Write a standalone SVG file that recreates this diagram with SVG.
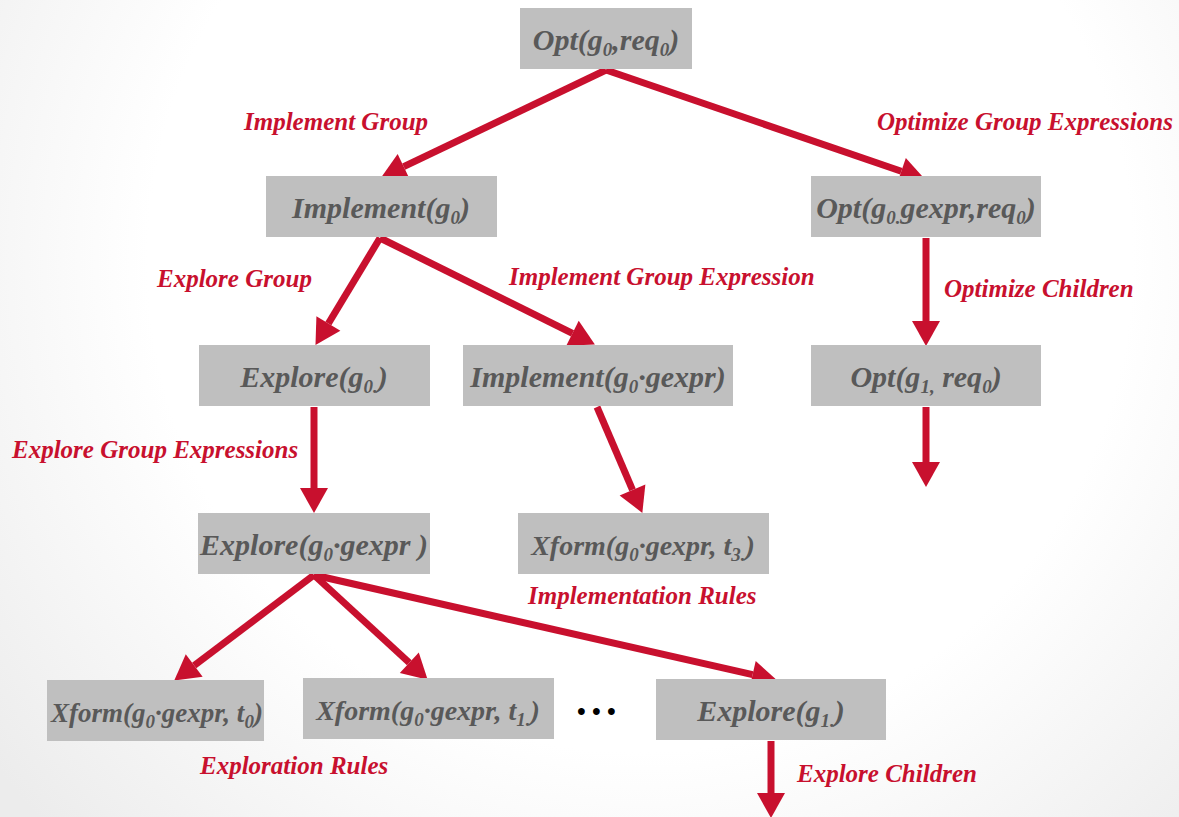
<svg xmlns="http://www.w3.org/2000/svg" width="1179" height="817" viewBox="0 0 1179 817">
  <defs>
    <radialGradient id="bg" cx="640" cy="260" r="820" gradientUnits="userSpaceOnUse">
      <stop offset="0" stop-color="#ffffff"/>
      <stop offset="0.6" stop-color="#ffffff"/>
      <stop offset="1" stop-color="#ececec"/>
    </radialGradient>
    <marker id="head" markerUnits="userSpaceOnUse" markerWidth="26" markerHeight="28" refX="0" refY="14" orient="auto" overflow="visible">
      <path d="M0,0 L25,14 L0,28 Z" fill="#c8102e"/>
    </marker>
    <style>
      .box { fill: #bfbfbf; }
      .nt { font-family: "Liberation Serif", "Times New Roman", serif; font-weight: bold; font-style: italic; font-size: 30px; fill: #595959; text-anchor: middle; }
      .nt.xf { font-size: 28px; }
      .nt.xs { font-size: 27px; }
      .sub { font-size: 19px; }
      .lbl { font-family: "Liberation Serif", "Times New Roman", serif; font-weight: bold; font-style: italic; font-size: 25px; fill: #c8102e; }
      .edge { stroke: #c8102e; stroke-width: 7; fill: none; marker-end: url(#head); }
    </style>
  </defs>

  <rect x="0" y="0" width="1179" height="817" fill="url(#bg)"/>

  <!-- connectors: each line stops at the base of its arrowhead -->
  <g id="connectors">
    <line class="edge" x1="606" y1="70" x2="403.7" y2="166.7"/>
    <line class="edge" x1="606" y1="70" x2="901.3" y2="171.2"/>
    <line class="edge" x1="380" y1="238" x2="328.4" y2="323.5"/>
    <line class="edge" x1="380" y1="238" x2="572.5" y2="333.3"/>
    <line class="edge" x1="926" y1="238" x2="926" y2="321"/>
    <line class="edge" x1="926" y1="407" x2="926" y2="462"/>
    <line class="edge" x1="314" y1="407" x2="314" y2="488"/>
    <line class="edge" x1="597" y1="407" x2="632.5" y2="489.9"/>
    <line class="edge" x1="314" y1="575" x2="194.2" y2="665.5"/>
    <line class="edge" x1="314" y1="575" x2="409.3" y2="662.8"/>
    <line class="edge" x1="314" y1="575" x2="752.6" y2="674.7"/>
    <line class="edge" x1="771" y1="741" x2="771" y2="793"/>
  </g>

  <!-- edge labels -->
  <g id="labels">
    <text class="lbl" x="244" y="130">Implement Group</text>
    <text class="lbl" x="877" y="130">Optimize Group Expressions</text>
    <text class="lbl" x="157" y="287">Explore Group</text>
    <text class="lbl" x="509" y="285">Implement Group Expression</text>
    <text class="lbl" x="944" y="297">Optimize Children</text>
    <text class="lbl" x="12" y="458">Explore Group Expressions</text>
    <text class="lbl" x="528" y="604">Implementation Rules</text>
    <text class="lbl" x="200" y="774">Exploration Rules</text>
    <text class="lbl" x="797" y="782">Explore Children</text>
    <text class="lbl" x="577" y="720" style="fill:#000000;font-style:normal">• • •</text>
  </g>

  <g id="n-opt-root">
    <rect class="box" x="520" y="8" width="172" height="61"/>
    <text class="nt" x="606" y="50">Opt(g<tspan class="sub" dy="6">0</tspan><tspan dy="-6">,req</tspan><tspan class="sub" dy="6">0</tspan><tspan dy="-6">)</tspan></text>
  </g>

  <g id="n-implement-g0">
    <rect class="box" x="266" y="176" width="231" height="61"/>
    <text class="nt" x="381" y="218">Implement(g<tspan class="sub" dy="6">0</tspan><tspan dy="-6">)</tspan></text>
  </g>

  <g id="n-opt-gexpr">
    <rect class="box" x="811" y="176" width="230" height="61"/>
    <text class="nt" x="926" y="218">Opt(g<tspan class="sub" dy="6">0.</tspan><tspan dy="-6">gexpr,req</tspan><tspan class="sub" dy="6">0</tspan><tspan dy="-6">)</tspan></text>
  </g>

  <g id="n-explore-g0">
    <rect class="box" x="199" y="345" width="231" height="61"/>
    <text class="nt" x="314" y="387">Explore(g<tspan class="sub" dy="6">0.</tspan><tspan dy="-6">)</tspan></text>
  </g>

  <g id="n-implement-gexpr">
    <rect class="box" x="463" y="345" width="270" height="61"/>
    <text class="nt" x="598" y="387">Implement(g<tspan class="sub" dy="6">0</tspan><tspan dy="-6">·gexpr)</tspan></text>
  </g>

  <g id="n-opt-g1">
    <rect class="box" x="811" y="345" width="230" height="61"/>
    <text class="nt" x="926" y="387">Opt(g<tspan class="sub" dy="6">1,</tspan><tspan dy="-6"> req</tspan><tspan class="sub" dy="6">0</tspan><tspan dy="-6">)</tspan></text>
  </g>

  <g id="n-explore-gexpr">
    <rect class="box" x="198" y="513" width="232" height="61"/>
    <text class="nt" x="314" y="555">Explore(g<tspan class="sub" dy="6">0</tspan><tspan dy="-6">·gexpr )</tspan></text>
  </g>

  <g id="n-xform-t3">
    <rect class="box" x="518" y="513" width="251" height="61"/>
    <text class="nt xf" x="643" y="555">Xform(g<tspan class="sub" dy="6">0</tspan><tspan dy="-6">·gexpr, t</tspan><tspan class="sub" dy="6">3.</tspan><tspan dy="-6">)</tspan></text>
  </g>

  <g id="n-xform-t0">
    <rect class="box" x="47" y="680" width="217" height="61"/>
    <text class="nt xs" x="157" y="722">Xform(g<tspan class="sub" dy="6">0</tspan><tspan dy="-6">·gexpr, t</tspan><tspan class="sub" dy="6">0</tspan><tspan dy="-6">)</tspan></text>
  </g>

  <g id="n-xform-t1">
    <rect class="box" x="303" y="678" width="251" height="61"/>
    <text class="nt xf" x="428" y="720">Xform(g<tspan class="sub" dy="6">0</tspan><tspan dy="-6">·gexpr, t</tspan><tspan class="sub" dy="6">1.</tspan><tspan dy="-6">)</tspan></text>
  </g>

  <g id="n-explore-g1">
    <rect class="box" x="656" y="679" width="230" height="61"/>
    <text class="nt" x="771" y="721">Explore(g<tspan class="sub" dy="6">1.</tspan><tspan dy="-6">)</tspan></text>
  </g>
</svg>
